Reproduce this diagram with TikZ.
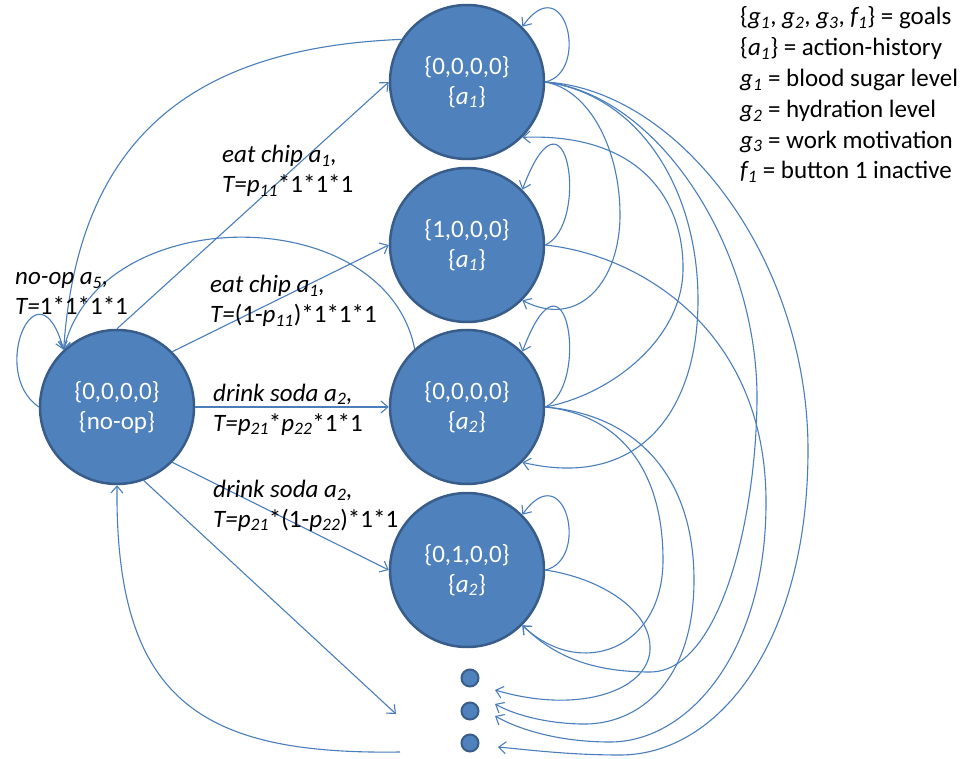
\documentclass[tikz,border=0pt]{standalone}
\usepackage{fontspec}
\setmainfont{Carlito}
\usetikzlibrary{arrows.meta}

\definecolor{statefill}{HTML}{4F81BD}
\definecolor{stateline}{HTML}{385D8A}
\definecolor{linkblue}{HTML}{4A7EBB}

\tikzset{
  state/.style={circle, fill=statefill, draw=stateline, line width=2.5pt,
    minimum size=154pt, inner sep=0pt, text=white, align=center,
    font=\fontsize{25}{30}\selectfont},
  moredot/.style={circle, fill=statefill, draw=stateline, line width=2pt,
    minimum size=17pt, inner sep=0pt},
  link/.style={draw=linkblue, line width=1.1pt,
    -{Straight Barb[length=7pt,width=12pt]}},
  % anchored at the baseline of the last line
  lbl/.style={anchor=base west, align=left, inner sep=0pt,
    font=\fontsize{25}{30}\selectfont},
}

\begin{document}
\begin{tikzpicture}[x=1pt,y=-1pt]
\useasboundingbox (0,0) rectangle (972,759);

% states
\node[state] (N0) at (117,407) {\{0,0,0,0\}\\\{no-op\}};
\node[state] (A) at (467,82) {\{0,0,0,0\}\\\{\textit{a\textsubscript{1}}\}};
\node[state] (B) at (467,245) {\{1,0,0,0\}\\\{\textit{a\textsubscript{1}}\}};
\node[state] (C) at (467,407) {\{0,0,0,0\}\\\{\textit{a\textsubscript{2}}\}};
\node[state] (D) at (467,570) {\{0,1,0,0\}\\\{\textit{a\textsubscript{2}}\}};

% further states, elided
\node[moredot] (dot1) at (470,678) {};
\node[moredot] (dot2) at (470,711) {};
\node[moredot] (dot3) at (470,743) {};

\coordinate (inD) at (495,690);
\coordinate (inC) at (495,704);
\coordinate (inB) at (495,716);
\coordinate (inA) at (498,747);
\coordinate (fanin) at (396,714);
\coordinate (fanout) at (400,752);

% actions from the start state
\draw[link] (N0.north) -- (A.west);
\draw[link] (N0.45) -- (B.west);
\draw[link] (N0.east) -- (C.west);
\draw[link] (N0.-45) -- (D.west);
\draw[link] (N0.-70) -- (fanin);
\draw[link] (fanout) .. controls (200,755) and (115,700) .. (N0.south);
\draw[link] (N0.west) .. controls (-12,372) and (38,258) .. (N0.133);
\draw[link] (A.147) .. controls (190,48) and (78,140) .. (N0.133);
\draw[link] (C.132) .. controls (385,200) and (100,200) .. (N0.133);

% self loops
\draw[link] (A.east) .. controls +(45,-10) and +(43,-60) .. (A.45);
\draw[link] (B.east) .. controls +(45,-20) and +(45,-120) .. (B.45);
\draw[link] (C.east) .. controls +(45,-20) and +(45,-120) .. (C.45);
\draw[link] (D.east) .. controls +(45,-10) and +(43,-60) .. (D.45);

% transitions between the right-hand states
\draw[link] (A.east) .. controls (590,90) and (620,150) .. (620,215)
  .. controls (620,280) and (580,330) .. (B.-45);
\draw[link] (C.east) .. controls (610,395) and (682,340) .. (683,270)
  .. controls (684,200) and (640,133) .. (A.-45);
\draw[link] (A.east) .. controls (640,95) and (698,190) .. (698,300)
  .. controls (698,410) and (640,490) .. (C.-45);
\draw[link] (A.east) .. controls (660,95) and (758,250) .. (757,400)
  .. controls (756,520) and (720,672) .. (650,672)
  .. controls (585,672) and (550,652) .. (D.-45);
\draw[link] (C.east) .. controls (620,415) and (663,470) .. (663,560)
  .. controls (663,650) and (580,680) .. (D.-45);

% transitions into the elided states
\draw[link] (A.east) .. controls (680,90) and (808,260) .. (808,450)
  .. controls (808,640) and (720,755) .. (620,755)
  .. controls (570,755) and (530,750) .. (inA);
\draw[link] (B.east) .. controls (640,255) and (765,330) .. (766,500)
  .. controls (767,650) and (690,742) .. (610,742)
  .. controls (560,742) and (520,730) .. (inB);
\draw[link] (C.east) .. controls (640,415) and (694,480) .. (694,580)
  .. controls (694,680) and (640,726) .. (580,724)
  .. controls (545,723) and (515,715) .. (inC);
\draw[link] (D.east) .. controls (600,578) and (652,610) .. (650,650)
  .. controls (648,690) and (580,715) .. (inD);

% action labels
\node[lbl] (lchipone) at (222,193)
  {\textit{eat chip a\textsubscript{1},}\\\textit{T=p\textsubscript{11}}*1*1*1};
\node[lbl] (lchiptwo) at (210,323)
  {\textit{eat chip a\textsubscript{1},}\\\textit{T=}(1-\textit{p\textsubscript{11}})*1*1*1};
\node[lbl] (lnoop) at (15,315)
  {\textit{no-op a\textsubscript{5},}\\\textit{T=}1*1*1*1};
\node[lbl] (lsodaone) at (213,431)
  {\textit{drink soda a\textsubscript{2},}\\\textit{T=p\textsubscript{21}}*\textit{p\textsubscript{22}}*1*1};
\node[lbl] (lsodatwo) at (213,527)
  {\textit{drink soda a\textsubscript{2},}\\\textit{T=p\textsubscript{21}}*(1-\textit{p\textsubscript{22}})*1*1};

% legend
\node[lbl, font=\fontsize{25}{30.8}\selectfont] (legend) at (740,179)
  {\{\textit{g\textsubscript{1}}, \textit{g\textsubscript{2}}, \textit{g\textsubscript{3}}, \textit{f\textsubscript{1}}\} = goals\\
   \{\textit{a\textsubscript{1}}\} = action-history\\
   \textit{g\textsubscript{1}} = blood sugar level\\
   \textit{g\textsubscript{2}} = hydration level\\
   \textit{g\textsubscript{3}} = work motivation\\
   \textit{f\textsubscript{1}} = button 1 inactive};
\end{tikzpicture}
\end{document}
